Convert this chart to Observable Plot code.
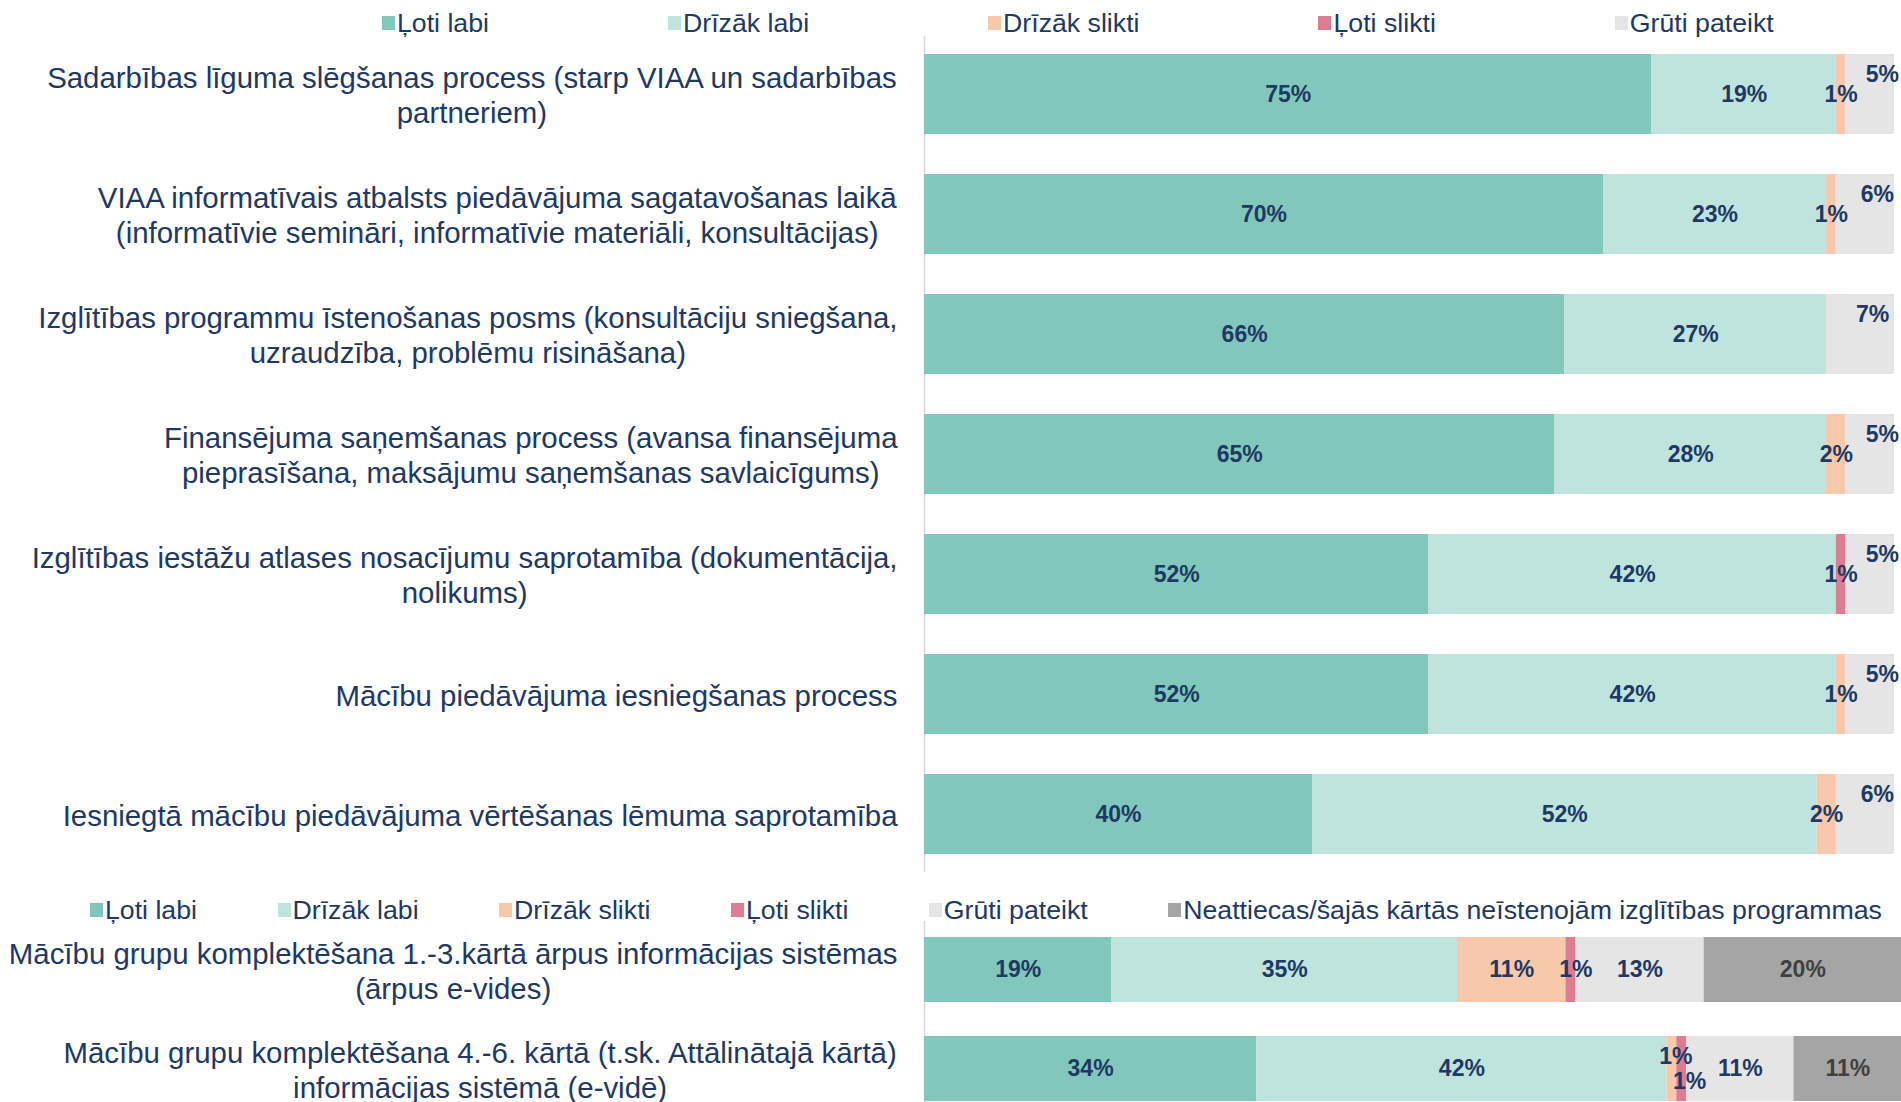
<!DOCTYPE html>
<html><head><meta charset="utf-8">
<script src="https://cdn.jsdelivr.net/npm/d3@7"></script>
<script src="https://cdn.jsdelivr.net/npm/@observablehq/plot@0.6"></script>
<style>
html,body{margin:0;padding:0;background:#fff;overflow:hidden;width:1901px;height:1102px;}
#root{position:relative;width:1901px;height:1102px;font-family:"Liberation Sans",Arial,sans-serif;color:#203864;}
.legend{position:absolute;display:flex;align-items:center;height:30px;font-size:26.7px;white-space:nowrap;}
.legend .item{display:flex;align-items:center;}
.legend .sw{width:13px;height:14px;margin-right:2px;}
.chart{position:absolute;left:0;}
</style></head><body><div id="root"></div>
<script>
// ---------- DATA ----------
const topCategories = [
  "Sadarbības līguma slēgšanas process (starp VIAA un sadarbības\npartneriem)",
  "VIAA informatīvais atbalsts piedāvājuma sagatavošanas laikā\n(informatīvie semināri, informatīvie materiāli, konsultācijas)",
  "Izglītības programmu īstenošanas posms (konsultāciju sniegšana,\nuzraudzība, problēmu risināšana)",
  "Finansējuma saņemšanas process (avansa finansējuma\npieprasīšana, maksājumu saņemšanas savlaicīgums)",
  "Izglītības iestāžu atlases nosacījumu saprotamība (dokumentācija,\nnolikums)",
  "Mācību piedāvājuma iesniegšanas process",
  "Iesniegtā mācību piedāvājuma vērtēšanas lēmuma saprotamība"
];
const topSeries = ["Ļoti labi", "Drīzāk labi", "Drīzāk slikti", "Ļoti slikti", "Grūti pateikt"];
const topLotiLabi     = [75, 70, 66, 65, 52, 52, 40];
const topDrizakLabi   = [19, 23, 27, 28, 42, 42, 52];
const topDrizakSlikti = [1, 1, 0, 2, 0, 1, 2];
const topLotiSlikti   = [0, 0, 0, 0, 1, 0, 0];
const topGrutiPateikt = [5, 6, 7, 5, 5, 5, 6];

const bottomCategories = [
  "Mācību grupu komplektēšana 1.-3.kārtā ārpus informācijas sistēmas\n(ārpus e-vides)",
  "Mācību grupu komplektēšana 4.-6. kārtā (t.sk. Attālinātajā kārtā)\ninformācijas sistēmā (e-vidē)"
];
const bottomSeries = ["Ļoti labi", "Drīzāk labi", "Drīzāk slikti", "Ļoti slikti", "Grūti pateikt",
  "Neattiecas/šajās kārtās neīstenojām izglītības programmas"];
const bottomLotiLabi     = [19, 34];
const bottomDrizakLabi   = [35, 42];
const bottomDrizakSlikti = [11, 1];
const bottomLotiSlikti   = [1, 1];
const bottomGrutiPateikt = [13, 11];
const bottomNeattiecas   = [20, 11];

// ---------- STYLE ----------
const seriesColors = ["#81C7BB", "#BFE3DD", "#F7C9AA", "#E07C92", "#E5E5E5", "#A5A5A5"];
const navy = "#203864";
const darkGray = "#404040";
const fontFamily = '"Liberation Sans", Arial, sans-serif';

// ---------- TABLES (100% stacked: each row normalized to its total) ----------
function buildTable(cats, series, arrays) {
  const rows = [];
  cats.forEach((c, i) => {
    const total = d3.sum(arrays, a => a[i]);
    let acc = 0;
    series.forEach((s, j) => {
      const v = arrays[j][i];
      const share = v / total;
      rows.push({cat: c, series: s, value: v, x1: acc, x2: acc + share, mid: acc + share / 2, si: j, ci: i});
      acc += share;
    });
  });
  return rows;
}
const topTable = buildTable(topCategories, topSeries,
  [topLotiLabi, topDrizakLabi, topDrizakSlikti, topLotiSlikti, topGrutiPateikt]);
const bottomTable = buildTable(bottomCategories, bottomSeries,
  [bottomLotiLabi, bottomDrizakLabi, bottomDrizakSlikti, bottomLotiSlikti, bottomGrutiPateikt, bottomNeattiecas]);

// label nudges (Excel-style manual placement of small labels)
function topNudge(d) {
  if (d.si === 4) return {dx: 12, dy: -20};
  return {dx: 0, dy: 0};
}
function bottomNudge(d, table) {
  if (d.si === 2 && d.value <= 1) return {dx: 4, dy: -12};
  if (d.si === 3 && d.value <= 1) {
    const prev = table.find(r => r.ci === d.ci && r.si === 2);
    return prev && prev.value <= 1 ? {dx: 8, dy: 13} : {dx: 5, dy: 0};
  }
  return {dx: 0, dy: 0};
}

const canvas = document.createElement("canvas");
const ctx = canvas.getContext("2d");
function measure(text, size) {
  ctx.font = `${size}px "Liberation Sans", Arial, sans-serif`;
  return ctx.measureText(text).width;
}

function makeChart({cats, series, table, height, marginTop, marginRight, paddingInner, paddingOuter, nudge}) {
  const labelSize = 29.4, labelGap = 27;
  const marks = [Plot.ruleX([0], {stroke: "#D9D9D9", strokeWidth: 1.5})];
  marks.push(Plot.barX(table.filter(d => d.value > 0), {x1: "x1", x2: "x2", y: "cat", fill: "series"}));
  const groups = new Map();
  for (const d of table.filter(d => d.value > 0)) {
    const n = nudge(d, table);
    const fill = d.si === 5 ? darkGray : navy;
    const key = `${fill}|${n.dx}|${n.dy}`;
    if (!groups.has(key)) groups.set(key, {fill, dx: n.dx, dy: n.dy, rows: []});
    groups.get(key).rows.push(d);
  }
  for (const g of groups.values()) {
    marks.push(Plot.text(g.rows, {x: "mid", y: "cat", text: d => `${d.value}%`,
      fill: g.fill, fontWeight: "bold", fontSize: 23, dx: g.dx, dy: g.dy}));
  }
  for (const c of cats) {
    const w = Math.max(...c.split("\n").map(l => measure(l, labelSize)));
    marks.push(Plot.text([c], {y: d => d, text: d => d, frameAnchor: "left", textAnchor: "middle",
      dx: -(labelGap + w / 2), fontSize: labelSize, lineHeight: 1.2, fill: navy}));
  }
  return Plot.plot({
    width: 1901, height, marginTop, marginBottom: 0, marginLeft: 924, marginRight,
    x: {domain: [0, 1], axis: null},
    y: {domain: cats, axis: null, paddingInner, paddingOuter},
    color: {domain: series, range: seriesColors.slice(0, series.length)},
    style: {background: "transparent", fontFamily, overflow: "visible"},
    marks
  });
}

function makeLegend(series, left, top, gap) {
  const div = document.createElement("div");
  div.className = "legend";
  div.style.left = left + "px";
  div.style.top = top + "px";
  div.style.gap = gap + "px";
  series.forEach((s, i) => {
    const item = document.createElement("div");
    item.className = "item";
    const sw = document.createElement("span");
    sw.className = "sw";
    sw.style.background = seriesColors[i];
    const t = document.createElement("span");
    t.textContent = s;
    item.append(sw, t);
    div.append(item);
  });
  return div;
}

const root = document.getElementById("root");
const topChart = makeChart({cats: topCategories, series: topSeries, table: topTable,
  height: 872, marginTop: 36, marginRight: 7, paddingInner: 1/3, paddingOuter: 0.15, nudge: topNudge});
topChart.classList.add("chart");
topChart.style.top = "0px";
root.append(topChart);

const bottomChart = makeChart({cats: bottomCategories, series: bottomSeries, table: bottomTable,
  height: 196, marginTop: 0, marginRight: 0, paddingInner: 0.347, paddingOuter: 0.16, nudge: bottomNudge});
bottomChart.classList.add("chart");
bottomChart.style.top = "921px";
root.append(bottomChart);

root.append(makeLegend(topSeries, 382, 8, 179));
root.append(makeLegend(bottomSeries, 90, 895, 80.5));
</script></body></html>
